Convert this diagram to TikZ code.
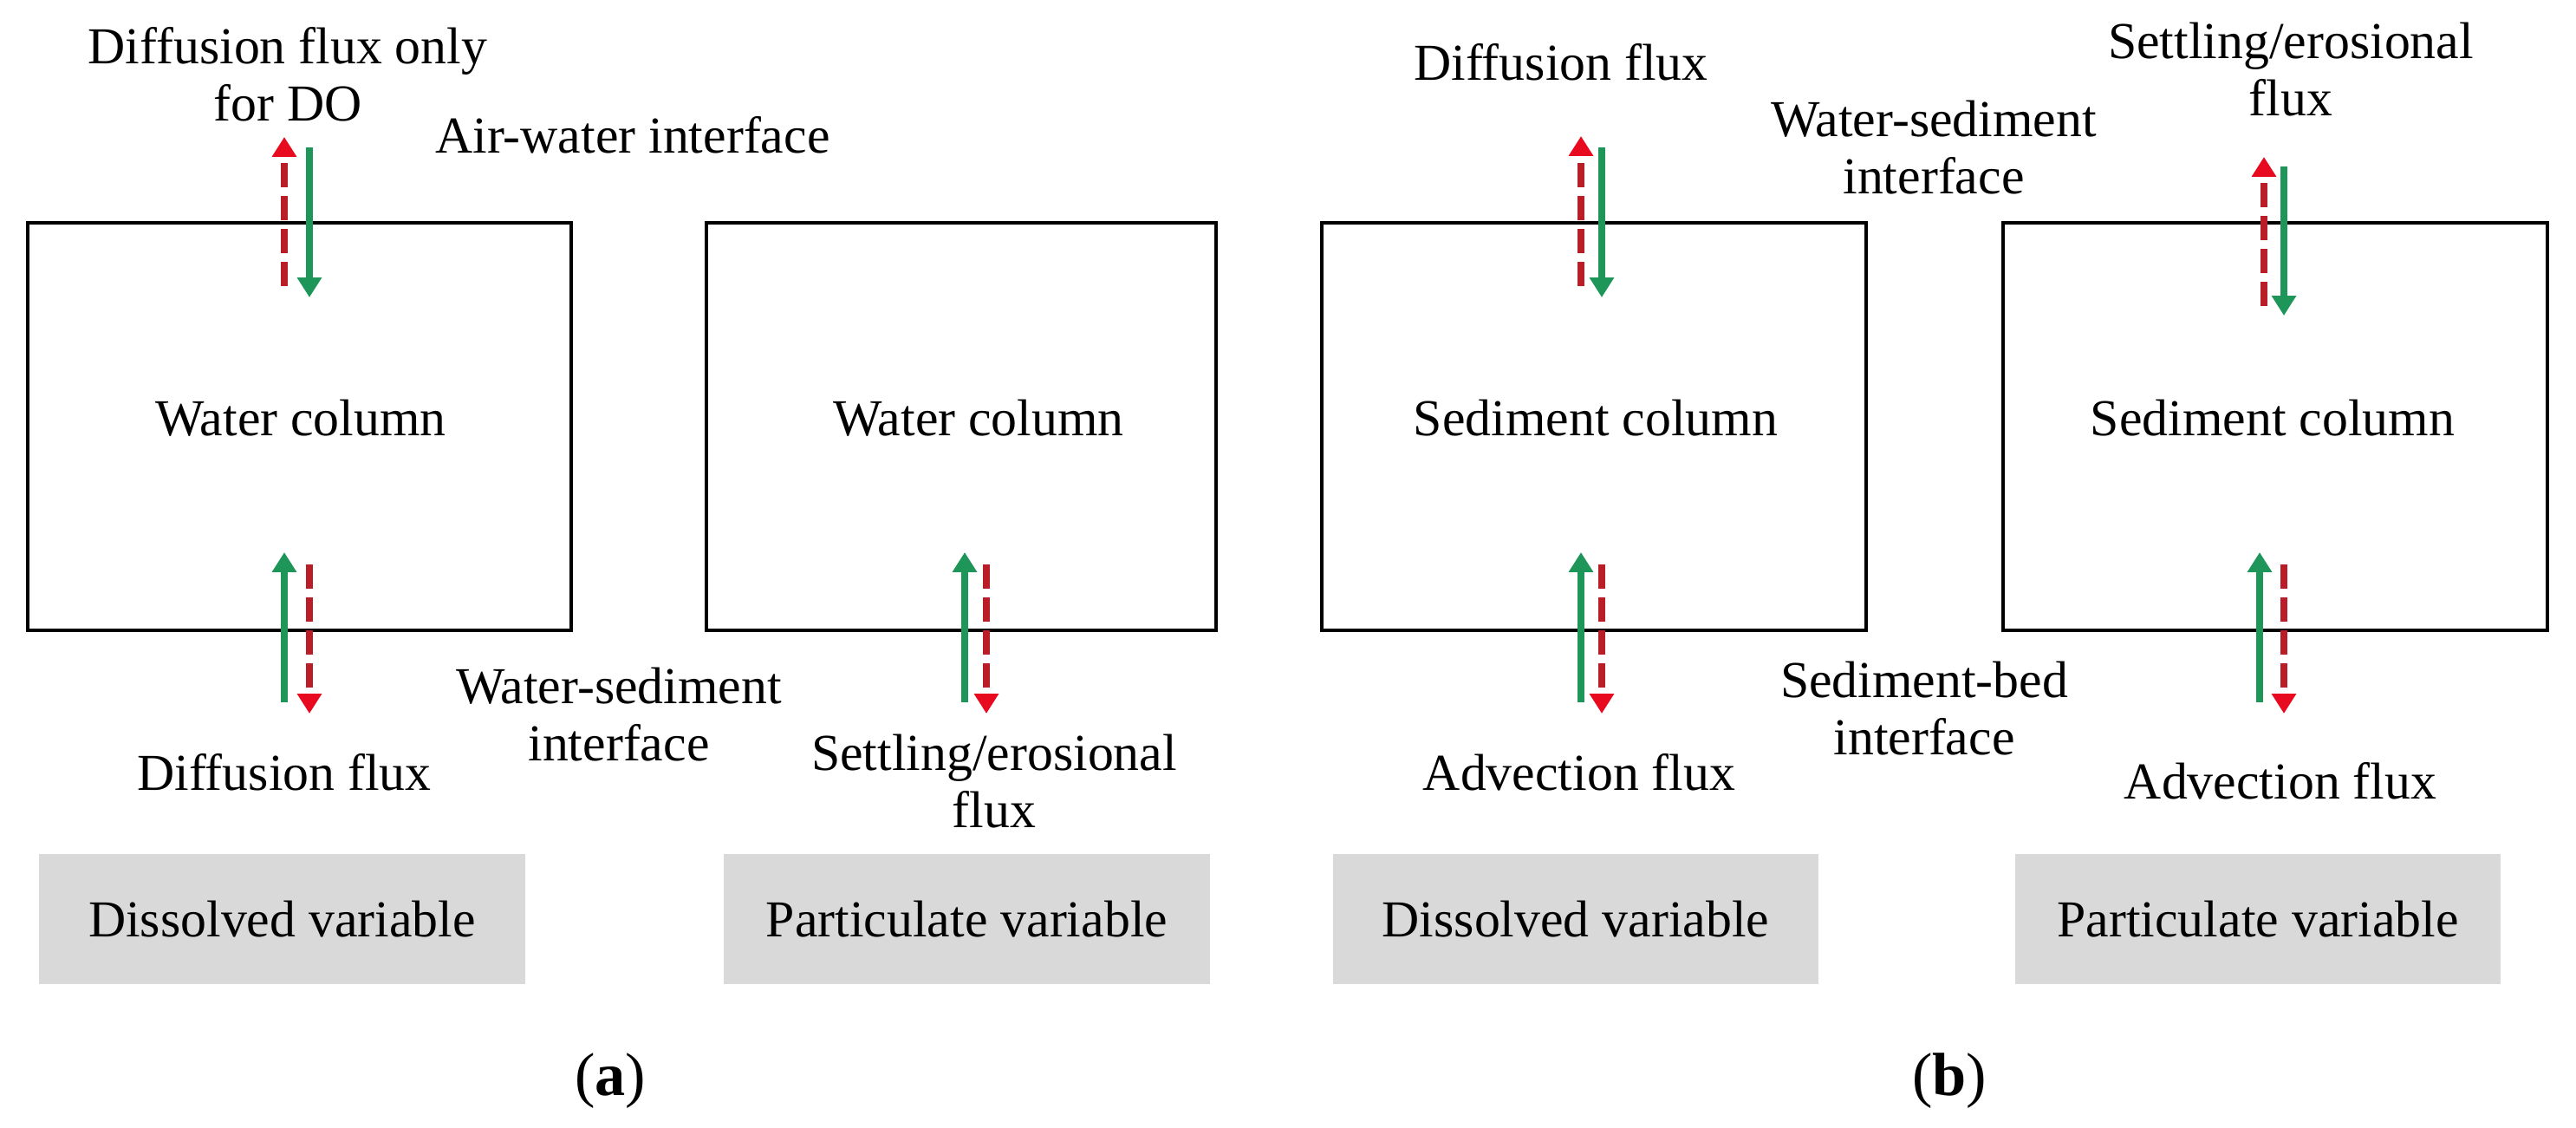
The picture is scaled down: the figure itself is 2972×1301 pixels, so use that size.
\documentclass[tikz,border=0pt]{standalone}
\usepackage{fontspec}
\setmainfont{Liberation Serif}
\usetikzlibrary{arrows.meta}
\definecolor{fluxgreen}{RGB}{30,150,90}
\definecolor{fluxred}{RGB}{185,30,40}
\definecolor{tipred}{RGB}{232,10,30}
\definecolor{boxgray}{RGB}{217,217,217}
\tikzset{
  lbl/.style={font=\fontsize{17}{19}\selectfont, inner sep=0pt, anchor=base, align=center},
  tag/.style={font=\fontsize{20}{22}\selectfont, inner sep=0pt, anchor=base},
  colbox/.style={draw=black, line width=1.15pt, minimum width=6.27cm, minimum height=4.70cm, inner sep=0pt},
  varbox/.style={fill=boxgray, minimum width=5.6cm, minimum height=1.5cm, inner sep=0pt, font=\fontsize{17}{19}\selectfont},
  gflux/.style={draw=fluxgreen, line width=2.4pt, -{Triangle[width=7.7pt,length=6.5pt,color=fluxgreen]}},
  rflux/.style={draw=fluxred, line width=2.4pt, dash pattern=on 8pt off 2.8pt, -{Triangle[width=7.7pt,length=6.5pt,color=tipred]}},
}
\begin{document}
\begin{tikzpicture}[x=0.01cm, y=-0.01cm]
\useasboundingbox (0,0) rectangle (2972,1301);

% column boxes
\node[colbox] (b1) at (345.5,492) {};
\node[colbox, minimum width=5.88cm] (b2) at (1109,492) {};
\node[colbox] (b3) at (1839,492) {};
\node[colbox] (b4) at (2625,492) {};

\node[lbl] (t1) at (347,503) {Water column};
\node[lbl] (t2) at (1129,503) {Water column};
\node[lbl] (t3) at (1841,503) {Sediment column};
\node[lbl] (t4) at (2622,503) {Sediment column};

% variable boxes
\node[varbox] (v1) at (325.5,1060) {Dissolved variable};
\node[varbox] (v2) at (1115.5,1060) {Particulate variable};
\node[varbox] (v3) at (1818,1060) {Dissolved variable};
\node[varbox] (v4) at (2605,1060) {Particulate variable};

% panel (a) labels (multi-line: base = last line)
\node[lbl] (la1) at (332,140) {Diffusion flux only\\for DO};
\node[lbl] (la2) at (730,177) {Air-water interface};
\node[lbl] (la3) at (328,912) {Diffusion flux};
\node[lbl] (la4) at (714,878) {Water-sediment\\interface};
\node[lbl] (la5) at (1147,955) {Settling/erosional\\flux};
\node[tag] (pa) at (704,1263) {(\textbf{a})};

% panel (b) labels
\node[lbl] (lb1) at (1801,93) {Diffusion flux};
\node[lbl] (lb2) at (2231,224) {Water-sediment\\interface};
\node[lbl] (lb3) at (2643,134) {Settling/erosional\\flux};
\node[lbl] (lb4) at (2220,871) {Sediment-bed\\interface};
\node[lbl] (lb5) at (1822,912) {Advection flux};
\node[lbl] (lb6) at (2631,922) {Advection flux};
\node[tag] (pb) at (2249,1263) {(\textbf{b})};

% flux arrows, box 1
\draw[rflux] (328,330) -- (328,158);
\draw[gflux] (357,170) -- (357,343);
\draw[gflux] (328,810) -- (328,637);
\draw[rflux] (357,651) -- (357,823);
% box 2
\draw[gflux] (1113,810) -- (1113,637);
\draw[rflux] (1138,651) -- (1138,823);
% box 3
\draw[rflux] (1824,330) -- (1824,157);
\draw[gflux] (1848,170) -- (1848,343);
\draw[gflux] (1824,810) -- (1824,637);
\draw[rflux] (1848,651) -- (1848,823);
% box 4
\draw[rflux] (2612,353) -- (2612,181);
\draw[gflux] (2635,192) -- (2635,364);
\draw[gflux] (2607,810) -- (2607,637);
\draw[rflux] (2635,651) -- (2635,823);
\end{tikzpicture}
\end{document}
